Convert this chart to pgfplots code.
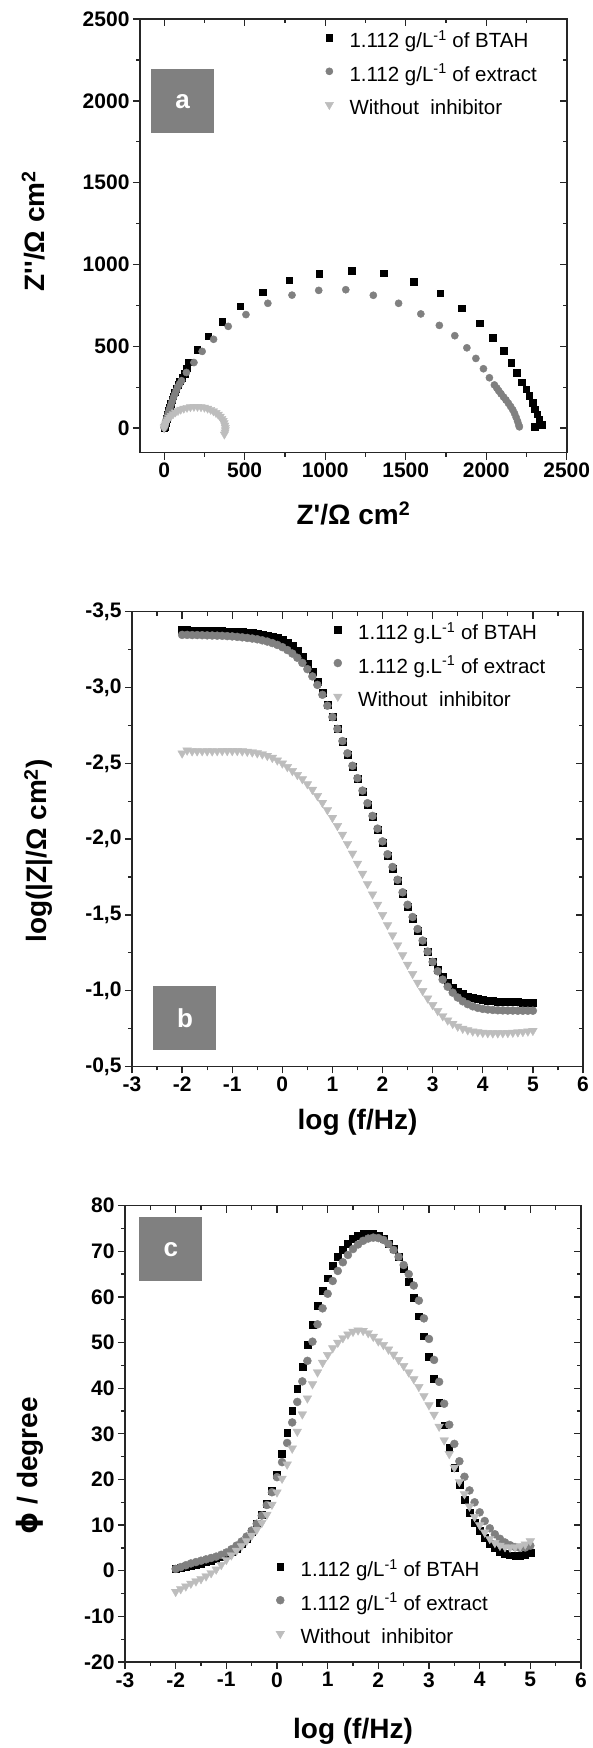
\documentclass[border=0pt]{standalone}
\usepackage{pgfplots}
\pgfplotsset{compat=1.18}
\usepackage{pgfplotstable}
\usepackage{fontspec}
\setmainfont{Liberation Sans}
\newfontfamily\dejavu{DejaVu Sans}
\definecolor{ggray}{HTML}{808080}
\definecolor{lgray}{HTML}{BDBDBD}
\definecolor{boxgray}{HTML}{808080}

% ---------------- panel a (Nyquist) ----------------
\pgfplotstableread{
x y
0 3
3 8
7 18
12 35
16 58
22 82
28 106
35 128
42 151
49 174
56 196
65 219
75 241
86 264
98 286
112 309
126 331
140 367
154 403
206 480
274 563
360 649
473 745
613 831
777 905
964 944
1163 964
1362 946
1550 896
1714 824
1849 734
1959 642
2041 554
2107 473
2156 399
2191 338
2221 280
2248 239
2268 198
2289 157
2303 116
2318 86
2330 55
2345 20
2303 8
}\aBTAH
\pgfplotstableread{
x y
0 3
4 10
7 27
12 50
19 72
26 95
33 117
41 140
49 162
57 185
66 207
75 230
84 252
96 271
108 290
138 340
185 401
236 469
307 543
398 622
508 694
644 763
794 813
960 842
1128 846
1299 812
1456 763
1594 698
1709 628
1805 565
1880 491
1936 426
1983 363
2020 308
2051 264
2066 245
2078 228
2092 210
2108 190
2123 172
2138 152
2152 132
2165 112
2176 90
2186 66
2195 42
2202 20
2206 8
}\aEXT
\pgfplotstableread{
x y
0 0
2 8
5 18
10 29
16 41
24 53
33 65
44 76
56 87
70 97
86 106
103 114
122 120
142 125
163 129
185 131
207 131
229 129
250 126
270 120
289 113
306 104
322 94
336 83
348 71
358 58
366 45
372 31
377 17
380 3
380 -11
378 -25
374 -38
}\aWO

% ---------------- panel b (|Z|) ----------------
\pgfplotstableread{
x y
-2.0 -3.378
-1.9 -3.378
-1.8 -3.377
-1.7 -3.377
-1.6 -3.376
-1.5 -3.375
-1.4 -3.374
-1.3 -3.373
-1.2 -3.372
-1.1 -3.371
-1.0 -3.369
-0.9 -3.367
-0.8 -3.365
-0.7 -3.362
-0.6 -3.359
-0.5 -3.355
-0.4 -3.350
-0.3 -3.344
-0.2 -3.336
-0.1 -3.326
0.0 -3.313
0.1 -3.296
0.2 -3.273
0.3 -3.243
0.4 -3.205
0.5 -3.160
0.6 -3.105
0.7 -3.040
0.8 -2.965
0.9 -2.885
1.0 -2.805
1.1 -2.725
1.2 -2.643
1.3 -2.560
1.4 -2.478
1.5 -2.396
1.6 -2.313
1.7 -2.230
1.8 -2.146
1.9 -2.062
2.0 -1.978
2.1 -1.893
2.2 -1.808
2.3 -1.723
2.4 -1.639
2.5 -1.556
2.6 -1.475
2.7 -1.397
2.8 -1.323
2.9 -1.255
3.0 -1.193
3.1 -1.139
3.2 -1.092
3.3 -1.053
3.4 -1.021
3.5 -0.996
3.6 -0.977
3.7 -0.963
3.8 -0.952
3.9 -0.944
4.0 -0.938
4.1 -0.934
4.2 -0.931
4.3 -0.929
4.4 -0.927
4.5 -0.926
4.6 -0.925
4.7 -0.925
4.8 -0.924
4.9 -0.924
5.0 -0.924
}\bBTAH
\pgfplotstableread{
x y
-2.0 -3.347
-1.9 -3.347
-1.8 -3.346
-1.7 -3.346
-1.6 -3.345
-1.5 -3.344
-1.4 -3.343
-1.3 -3.342
-1.2 -3.341
-1.1 -3.339
-1.0 -3.337
-0.9 -3.334
-0.8 -3.331
-0.7 -3.327
-0.6 -3.323
-0.5 -3.318
-0.4 -3.311
-0.3 -3.303
-0.2 -3.293
-0.1 -3.281
0.0 -3.266
0.1 -3.247
0.2 -3.224
0.3 -3.196
0.4 -3.162
0.5 -3.121
0.6 -3.073
0.7 -3.017
0.8 -2.952
0.9 -2.880
1.0 -2.805
1.1 -2.727
1.2 -2.647
1.3 -2.566
1.4 -2.484
1.5 -2.402
1.6 -2.320
1.7 -2.237
1.8 -2.153
1.9 -2.069
2.0 -1.985
2.1 -1.900
2.2 -1.816
2.3 -1.732
2.4 -1.649
2.5 -1.567
2.6 -1.486
2.7 -1.407
2.8 -1.331
2.9 -1.258
3.0 -1.190
3.1 -1.128
3.2 -1.073
3.3 -1.026
3.4 -0.987
3.5 -0.955
3.6 -0.930
3.7 -0.911
3.8 -0.897
3.9 -0.887
4.0 -0.880
4.1 -0.876
4.2 -0.873
4.3 -0.871
4.4 -0.870
4.5 -0.869
4.6 -0.869
4.7 -0.868
4.8 -0.868
4.9 -0.868
5.0 -0.868
}\bEXT
\pgfplotstableread{
x y
-2.0 -2.566
-1.9 -2.585
-1.8 -2.580
-1.7 -2.580
-1.6 -2.581
-1.5 -2.580
-1.4 -2.580
-1.3 -2.581
-1.2 -2.582
-1.1 -2.582
-1.0 -2.582
-0.9 -2.582
-0.8 -2.580
-0.7 -2.577
-0.6 -2.573
-0.5 -2.567
-0.4 -2.560
-0.3 -2.550
-0.2 -2.537
-0.1 -2.520
0.0 -2.500
0.1 -2.476
0.2 -2.450
0.3 -2.424
0.4 -2.396
0.5 -2.363
0.6 -2.326
0.7 -2.285
0.8 -2.240
0.9 -2.192
1.0 -2.141
1.1 -2.087
1.2 -2.030
1.3 -1.969
1.4 -1.905
1.5 -1.839
1.6 -1.772
1.7 -1.704
1.8 -1.636
1.9 -1.568
2.0 -1.500
2.1 -1.433
2.2 -1.366
2.3 -1.300
2.4 -1.235
2.5 -1.172
2.6 -1.111
2.7 -1.053
2.8 -0.999
2.9 -0.950
3.0 -0.906
3.1 -0.867
3.2 -0.833
3.3 -0.805
3.4 -0.782
3.5 -0.764
3.6 -0.750
3.7 -0.740
3.8 -0.732
3.9 -0.727
4.0 -0.723
4.1 -0.721
4.2 -0.720
4.3 -0.720
4.4 -0.721
4.5 -0.722
4.6 -0.724
4.7 -0.726
4.8 -0.729
4.9 -0.732
5.0 -0.736
}\bWO

% ---------------- panel c (phase) ----------------
\pgfplotstableread{
x y
-2.0 0.5
-1.9 0.6
-1.8 0.8
-1.7 1.0
-1.6 1.3
-1.5 1.6
-1.4 1.9
-1.3 2.2
-1.2 2.6
-1.1 3.0
-1.0 3.5
-0.9 4.1
-0.8 4.9
-0.7 5.9
-0.6 7.1
-0.5 8.6
-0.4 10.3
-0.3 12.3
-0.2 14.7
-0.1 17.6
0.0 21.0
0.1 25.6
0.2 30.3
0.3 35.0
0.4 39.9
0.5 44.8
0.6 49.6
0.7 53.9
0.8 58.0
0.9 61.3
1.0 64.1
1.1 66.8
1.2 68.8
1.3 70.4
1.4 71.7
1.5 72.7
1.6 73.4
1.7 73.8
1.8 73.9
1.9 73.8
2.0 73.5
2.1 72.8
2.2 71.7
2.3 70.6
2.4 68.9
2.5 66.1
2.6 63.4
2.7 59.9
2.8 55.8
2.9 51.4
3.0 46.9
3.1 42.0
3.2 36.8
3.3 31.9
3.4 27.0
3.5 22.6
3.6 18.9
3.7 15.6
3.8 12.8
3.9 10.6
4.0 8.8
4.1 7.3
4.2 6.0
4.3 5.0
4.4 4.2
4.5 3.7
4.6 3.4
4.7 3.3
4.8 3.3
4.9 3.5
5.0 4.0
}\cBTAH
\pgfplotstableread{
x y
-2.0 0.4
-1.9 0.8
-1.8 1.2
-1.7 1.6
-1.6 1.9
-1.5 2.2
-1.4 2.5
-1.3 2.8
-1.2 3.1
-1.1 3.5
-1.0 4.0
-0.9 4.7
-0.8 5.5
-0.7 6.4
-0.6 7.5
-0.5 8.8
-0.4 10.3
-0.3 12.1
-0.2 14.4
-0.1 17.2
0.0 20.5
0.1 23.8
0.2 28.0
0.3 32.5
0.4 37.0
0.5 41.5
0.6 46.0
0.7 50.2
0.8 54.0
0.9 57.5
1.0 60.7
1.1 63.5
1.2 65.7
1.3 67.6
1.4 69.2
1.5 70.5
1.6 71.5
1.7 72.3
1.8 72.8
1.9 73.0
2.0 72.9
2.1 72.5
2.2 71.6
2.3 70.3
2.4 68.8
2.5 67.0
2.6 65.0
2.7 62.5
2.8 59.2
2.9 55.3
3.0 50.8
3.1 46.2
3.2 41.4
3.3 36.6
3.4 32.0
3.5 27.8
3.6 24.0
3.7 20.6
3.8 17.6
3.9 15.0
4.0 12.8
4.1 10.9
4.2 9.3
4.3 8.0
4.4 7.0
4.5 6.2
4.6 5.6
4.7 5.2
4.8 5.0
4.9 5.1
5.0 5.5
}\cEXT
\pgfplotstableread{
x y
-2.0 -4.6
-1.9 -4.0
-1.8 -3.4
-1.7 -2.8
-1.6 -2.3
-1.5 -1.8
-1.4 -1.2
-1.3 -0.5
-1.2 0.3
-1.1 1.3
-1.0 2.4
-0.9 3.4
-0.8 4.4
-0.7 5.4
-0.6 6.5
-0.5 7.7
-0.4 9.0
-0.3 10.5
-0.2 12.3
-0.1 14.5
0.0 17.2
0.1 20.2
0.2 23.3
0.3 26.8
0.4 30.5
0.5 34.3
0.6 37.8
0.7 40.9
0.8 43.5
0.9 45.6
1.0 47.3
1.1 48.8
1.2 50.0
1.3 51.0
1.4 51.8
1.5 52.4
1.6 52.7
1.7 52.6
1.8 52.1
1.9 51.3
2.0 50.3
2.1 49.5
2.2 48.5
2.3 47.4
2.4 46.2
2.5 44.9
2.6 43.5
2.7 42.0
2.8 40.3
2.9 38.3
3.0 36.3
3.1 34.2
3.2 31.6
3.3 28.6
3.4 25.6
3.5 22.6
3.6 19.5
3.7 16.8
3.8 14.1
3.9 11.8
4.0 10.0
4.1 8.4
4.2 7.0
4.3 6.1
4.4 5.5
4.5 5.2
4.6 5.1
4.7 5.2
4.8 5.4
4.9 5.8
5.0 6.5
}\cWO

\pgfplotsset{
  tickstyle/.style={
    scale only axis, anchor=south west,
    every tick/.style={line width=1.3pt, black!85},
    major tick length=7pt, minor tick length=4pt,
  },
  mainax/.style={
    tickstyle,
    tick align=outside, xtick pos=left, ytick pos=left,
    axis line style={line width=1.6pt, black!85},
    ticklabel style={font=\fontsize{21}{25}\selectfont\bfseries},
    /pgf/number format/assume math mode=true,
    /pgf/number format/1000 sep={},
    label style={font=\fontsize{28}{32}\selectfont\bfseries},
    legend cell align=left,
    legend image code/.code={\draw[mark repeat=2,mark phase=2,##1] plot coordinates {(0pt,5pt)(10pt,5pt)(20pt,5pt)};},
    legend style={draw=none, fill=none, anchor=north west, inner xsep=3pt, inner ysep=2pt,
      font=\fontsize{20.5}{24}\selectfont, row sep=9.5pt,
      nodes={inner sep=2pt, text height=15pt, text depth=5pt},
      /tikz/every odd column/.append style={column sep=14pt}},
  },
  overax/.style={
    tickstyle,
    tick align=inside, xtick pos=right, ytick pos=right,
    xticklabels={}, yticklabels={},
    axis line style={draw=none},
  },
  pa/.style={at={(140pt,1295.3pt)}, width=426.7pt, height=433.6pt,
    xmin=-150, xmax=2500, ymin=-150, ymax=2500,
    xtick={0,500,...,2500}, ytick={0,500,...,2500},
    minor xtick={250,750,...,2250}, minor ytick={250,750,...,2250}},
  pb/.style={at={(132pt,681.5pt)}, width=451pt, height=454.8pt,
    xmin=-3, xmax=6, ymin=-3.5, ymax=-0.5, y dir=reverse,
    xtick={-3,...,6}, ytick={-3.5,-3,...,-0.5},
    minor xtick={-2.5,-1.5,...,5.5}, minor ytick={-3.25,-2.75,...,-0.75}},
  pc/.style={at={(125pt,86pt)}, width=456pt, height=456.3pt,
    xmin=-3, xmax=6, ymin=-20, ymax=80,
    xtick={-3,...,6}, ytick={-20,-10,...,80},
    minor xtick={-2.5,-1.5,...,5.5}, minor ytick={-15,-5,...,75}},
  sBTAH/.style={only marks, mark=square*, mark size=#1, mark options={fill=black, draw=black}},
  sEXT/.style={only marks, mark=*, mark size=#1, mark options={fill=ggray, draw=ggray}},
  sWO/.style={only marks, mark=triangle*, mark size=#1, mark options={fill=lgray, draw=lgray, rotate=180}},
}

\begin{document}
\begin{tikzpicture}
\useasboundingbox (0,0) rectangle (592pt,1748pt);

% ===== panel a =====
\begin{axis}[mainax, pa,
  xlabel={Z\textquotesingle/Ω cm\textsuperscript{2}},
  ylabel={Z\textquotesingle\textquotesingle/Ω cm\textsuperscript{2}},
  x label style={at={(axis description cs:0.5,-0.14)}, anchor=center},
  y label style={at={(axis description cs:-0.25,0.511)}, anchor=center},
  legend style={at={(axis description cs:0.4265,0.978)}},
]
\addplot[sBTAH=3.3] table {\aBTAH};
\addplot[sEXT=3.6] table {\aEXT};
\addplot[sWO=4.8] table {\aWO};
\legend{1.112 g/L\textsuperscript{-1}\ of BTAH, 1.112 g/L\textsuperscript{-1}\ of extract, Without\ \ inhibitor}
\node[fill=boxgray, minimum width=63pt, minimum height=64pt, inner sep=0pt, text=white,
  font=\fontsize{26}{30}\selectfont\bfseries] at (axis description cs:0.0996,0.810) {a};
\end{axis}
\begin{axis}[overax, pa]
\end{axis}

% ===== panel b =====
\begin{axis}[mainax, pb,
  xlabel={log (f/Hz)},
  ylabel={log(|Z|/Ω cm\textsuperscript{2})},
  x label style={at={(axis description cs:0.5,-0.122)}, anchor=center},
  y label style={at={(axis description cs:-0.207,0.474)}, anchor=center},
  yticklabel style={/pgf/number format/.cd, fixed, fixed zerofill, precision=1, use comma},
  legend style={at={(axis description cs:0.4397,0.981)}},
]
\addplot[sBTAH=3.5] table {\bBTAH};
\addplot[sEXT=4] table {\bEXT};
\addplot[sWO=5] table {\bWO};
\legend{1.112 g.L\textsuperscript{-1}\ of BTAH, 1.112 g.L\textsuperscript{-1}\ of extract, Without\ \ inhibitor}
\node[fill=boxgray, minimum width=63pt, minimum height=64pt, inner sep=0pt, text=white,
  font=\fontsize{26}{30}\selectfont\bfseries] at (axis description cs:0.1175,0.1066) {b};
\end{axis}
\begin{axis}[overax, pb]
\end{axis}

% ===== panel c =====
\begin{axis}[mainax, pc,
  xlabel={log (f/Hz)},
  ylabel={{\dejavu\bfseries ϕ} / degree},
  x label style={at={(axis description cs:0.5,-0.151)}, anchor=center},
  y label style={at={(axis description cs:-0.208,0.43)}, anchor=center},
  legend style={at={(axis description cs:0.324,0.229)}},
]
\addplot[sBTAH=3.4] table {\cBTAH};
\addplot[sEXT=4] table {\cEXT};
\addplot[sWO=5] table {\cWO};
\legend{1.112 g/L\textsuperscript{-1}\ of BTAH, 1.112 g/L\textsuperscript{-1}\ of extract, Without\ \ inhibitor}
\node[fill=boxgray, minimum width=63pt, minimum height=64pt, inner sep=0pt, text=white,
  font=\fontsize{26}{30}\selectfont\bfseries] at (axis description cs:0.1004,0.9047) {c};
\end{axis}
\begin{axis}[overax, pc]
\end{axis}
\end{tikzpicture}
\end{document}
